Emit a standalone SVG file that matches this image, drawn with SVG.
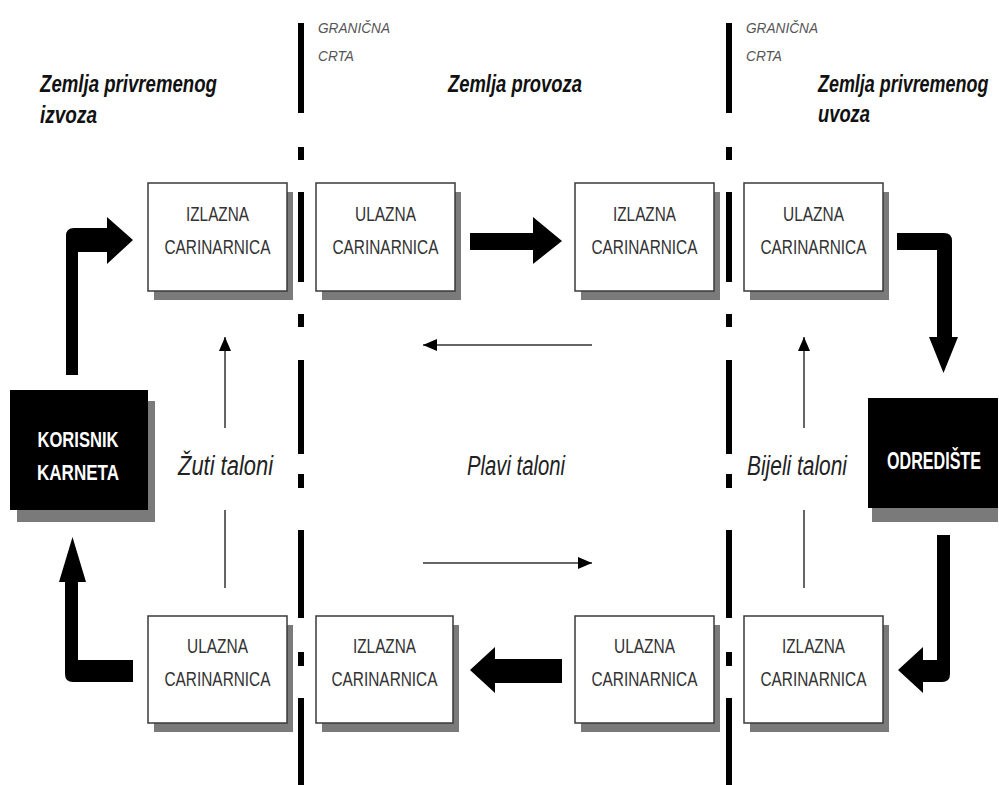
<svg xmlns="http://www.w3.org/2000/svg" width="999" height="785" viewBox="0 0 999 785">
<style>
.bx{fill:#fff;stroke:#3a3a3a;stroke-width:1.5}
.sh{fill:#7a7a7a}
.blk{fill:#000}
.bt{font-family:"Liberation Sans",Arial,sans-serif;font-size:20px;fill:#333;text-anchor:middle}
.wt{font-family:"Liberation Sans",Arial,sans-serif;font-size:22px;font-weight:bold;fill:#fff;text-anchor:middle}
.title{font-family:"Liberation Sans",Arial,sans-serif;font-size:23px;font-weight:bold;font-style:italic;fill:#111}
.gc{font-family:"Liberation Sans",Arial,sans-serif;font-size:15px;font-style:italic;fill:#555}
.lab{font-family:"Liberation Sans",Arial,sans-serif;font-size:27px;font-style:italic;fill:#222}
.thin{stroke:#333;stroke-width:1.5;fill:none}
.border{fill:#000}
</style>
<defs>
<marker id="ah" viewBox="0 0 14 12" refX="14" refY="6" markerWidth="14" markerHeight="12" markerUnits="userSpaceOnUse" orient="auto">
<path d="M0,0 L14,6 L0,12 Z" fill="#000"/>
</marker>
</defs>

<g id="labels">
<text class="title" x="40" y="92" textLength="177" lengthAdjust="spacingAndGlyphs">Zemlja privremenog</text>
<text class="title" x="40" y="123" textLength="57" lengthAdjust="spacingAndGlyphs">izvoza</text>
<text class="title" x="448" y="92" textLength="134" lengthAdjust="spacingAndGlyphs">Zemlja provoza</text>
<text class="title" x="0" y="0" transform="translate(818,92) scale(0.78,1)">Zemlja privremenog</text>
<text class="title" x="818" y="122" textLength="52" lengthAdjust="spacingAndGlyphs">uvoza</text>
<text class="gc" x="318" y="33" textLength="72" lengthAdjust="spacingAndGlyphs">GRANIČNA</text>
<text class="gc" x="318" y="61" textLength="36" lengthAdjust="spacingAndGlyphs">CRTA</text>
<text class="gc" x="746" y="33" textLength="72" lengthAdjust="spacingAndGlyphs">GRANIČNA</text>
<text class="gc" x="746" y="61" textLength="36" lengthAdjust="spacingAndGlyphs">CRTA</text>
<text class="lab" x="178" y="475" textLength="95" lengthAdjust="spacingAndGlyphs">Žuti taloni</text>
<text class="lab" x="467" y="475" textLength="98" lengthAdjust="spacingAndGlyphs">Plavi taloni</text>
<text class="lab" x="747" y="475" textLength="100" lengthAdjust="spacingAndGlyphs">Bijeli taloni</text>
</g>

<g id="border-lines">
<rect class="border" x="298" y="23" width="6" height="90"/>
<rect class="border" x="298" y="147" width="6" height="13"/>
<rect class="border" x="298" y="192" width="6" height="90"/>
<rect class="border" x="298" y="314" width="6" height="13"/>
<rect class="border" x="298" y="360" width="6" height="94"/>
<rect class="border" x="298" y="474" width="6" height="14"/>
<rect class="border" x="298" y="530" width="6" height="88"/>
<rect class="border" x="298" y="652" width="6" height="14"/>
<rect class="border" x="298" y="698" width="6" height="87"/>
<rect class="border" x="726" y="23" width="6" height="90"/>
<rect class="border" x="726" y="147" width="6" height="13"/>
<rect class="border" x="726" y="192" width="6" height="90"/>
<rect class="border" x="726" y="314" width="6" height="13"/>
<rect class="border" x="726" y="360" width="6" height="94"/>
<rect class="border" x="726" y="474" width="6" height="14"/>
<rect class="border" x="726" y="530" width="6" height="88"/>
<rect class="border" x="726" y="652" width="6" height="14"/>
<rect class="border" x="726" y="698" width="6" height="87"/>
</g>

<g id="n1">
<rect class="sh" x="154" y="192" width="139" height="108"/>
<rect class="bx" x="148" y="183" width="139" height="108"/>
<text class="bt" x="217.5" y="221" textLength="63" lengthAdjust="spacingAndGlyphs">IZLAZNA</text>
<text class="bt" x="217.5" y="254" textLength="106" lengthAdjust="spacingAndGlyphs">CARINARNICA</text>
</g>
<g id="n2">
<rect class="sh" x="322" y="192" width="139" height="108"/>
<rect class="bx" x="316" y="183" width="139" height="108"/>
<text class="bt" x="385.5" y="221" textLength="61" lengthAdjust="spacingAndGlyphs">ULAZNA</text>
<text class="bt" x="385.5" y="254" textLength="106" lengthAdjust="spacingAndGlyphs">CARINARNICA</text>
</g>
<g id="n3">
<rect class="sh" x="581" y="192" width="139" height="108"/>
<rect class="bx" x="575" y="183" width="139" height="108"/>
<text class="bt" x="644.5" y="221" textLength="63" lengthAdjust="spacingAndGlyphs">IZLAZNA</text>
<text class="bt" x="644.5" y="254" textLength="106" lengthAdjust="spacingAndGlyphs">CARINARNICA</text>
</g>
<g id="n4">
<rect class="sh" x="750" y="192" width="139" height="108"/>
<rect class="bx" x="744" y="183" width="139" height="108"/>
<text class="bt" x="813.5" y="221" textLength="61" lengthAdjust="spacingAndGlyphs">ULAZNA</text>
<text class="bt" x="813.5" y="254" textLength="106" lengthAdjust="spacingAndGlyphs">CARINARNICA</text>
</g>
<g id="n5">
<rect class="sh" x="154" y="625" width="139" height="107"/>
<rect class="bx" x="148" y="616" width="139" height="107"/>
<text class="bt" x="217.5" y="653" textLength="61" lengthAdjust="spacingAndGlyphs">ULAZNA</text>
<text class="bt" x="217.5" y="686" textLength="106" lengthAdjust="spacingAndGlyphs">CARINARNICA</text>
</g>
<g id="n6">
<rect class="sh" x="322" y="625" width="137" height="107"/>
<rect class="bx" x="316" y="616" width="137" height="107"/>
<text class="bt" x="384.5" y="653" textLength="63" lengthAdjust="spacingAndGlyphs">IZLAZNA</text>
<text class="bt" x="384.5" y="686" textLength="106" lengthAdjust="spacingAndGlyphs">CARINARNICA</text>
</g>
<g id="n7">
<rect class="sh" x="581" y="625" width="139" height="107"/>
<rect class="bx" x="575" y="616" width="139" height="107"/>
<text class="bt" x="644.5" y="653" textLength="61" lengthAdjust="spacingAndGlyphs">ULAZNA</text>
<text class="bt" x="644.5" y="686" textLength="106" lengthAdjust="spacingAndGlyphs">CARINARNICA</text>
</g>
<g id="n8">
<rect class="sh" x="750" y="625" width="139" height="107"/>
<rect class="bx" x="744" y="616" width="139" height="107"/>
<text class="bt" x="813.5" y="653" textLength="63" lengthAdjust="spacingAndGlyphs">IZLAZNA</text>
<text class="bt" x="813.5" y="686" textLength="106" lengthAdjust="spacingAndGlyphs">CARINARNICA</text>
</g>
<g id="korisnik">
<rect class="sh" x="17" y="401" width="138" height="121"/>
<rect class="blk" x="10" y="390" width="138" height="120"/>
<text class="wt" x="78" y="447" textLength="81" lengthAdjust="spacingAndGlyphs">KORISNIK</text>
<text class="wt" x="78" y="480" textLength="82" lengthAdjust="spacingAndGlyphs">KARNETA</text>
</g>
<g id="odrediste">
<rect class="sh" x="872" y="410" width="126" height="112"/>
<rect class="blk" x="868" y="398" width="130" height="110"/>
<text class="wt" x="0" y="0" transform="translate(934,469) scale(0.7,1)" style="font-size:23px">ODREDIŠTE</text>
</g>

<g id="connectors">
<path class="blk" d="M66,375 L66,236 Q66,228 74,228 L107,228 L107,217 L133,240 L107,264 L107,252 L78,252 L78,375 Z"/>
<path class="blk" d="M470,233 L533,233 L533,217 L562,241 L533,264 L533,250 L470,250 Z"/>
<path class="blk" d="M897,233 L944,233 Q952,233 952,241 L952,337 L958,337 L943.5,373 L929,337 L937,337 L937,250 L897,250 Z"/>
<path class="blk" d="M937,535 L950,535 L950,674 Q950,682 942,682 L923,682 L923,693 L898,670 L923,647 L923,660 L937,660 Z"/>
<path class="blk" d="M562,659 L562,683 L495,683 L495,693 L470,670 L495,647 L495,659 Z"/>
<path class="blk" d="M133,660 L133,682 L73,682 Q65,682 65,674 L65,582 L59,582 L72.5,537 L86,582 L78,582 L78,660 Z"/>
<line class="thin" x1="225" y1="428" x2="225" y2="337" marker-end="url(#ah)"/>
<line class="thin" x1="225" y1="510" x2="225" y2="588"/>
<line class="thin" x1="804" y1="428" x2="804" y2="337" marker-end="url(#ah)"/>
<line class="thin" x1="804" y1="510" x2="804" y2="588"/>
<line class="thin" x1="592" y1="345" x2="423" y2="345" marker-end="url(#ah)"/>
<line class="thin" x1="423" y1="563" x2="592" y2="563" marker-end="url(#ah)"/>
</g>
</svg>
